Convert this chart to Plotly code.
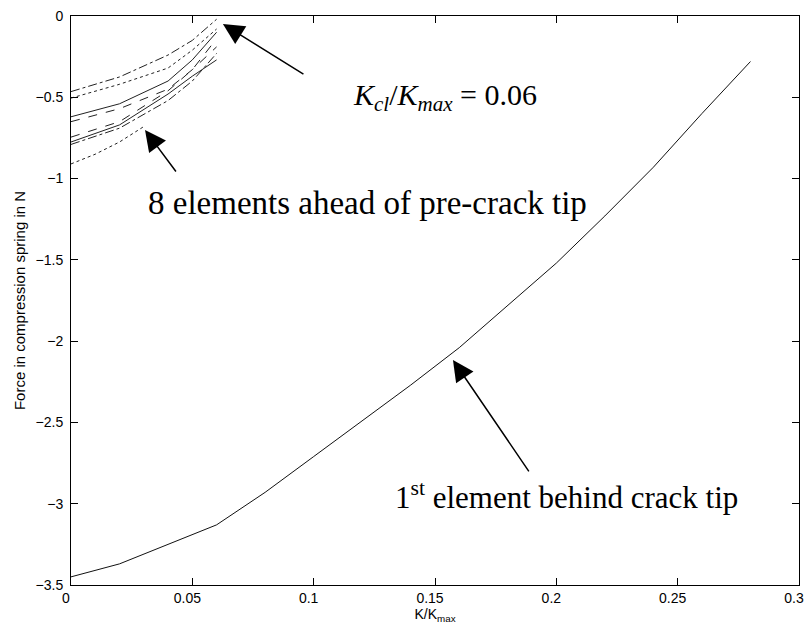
import plotly.graph_objects as go

# ---- data ----
main_x = [0.0, 0.02, 0.06, 0.08, 0.10, 0.12, 0.14, 0.16, 0.18, 0.20, 0.22, 0.24, 0.26, 0.28]
main_y = [-3.45, -3.37, -3.13, -2.93, -2.71, -2.49, -2.27, -2.04, -1.78, -1.52, -1.23, -0.93, -0.60, -0.28]

ahead_x = [0.0, 0.02, 0.04, 0.05, 0.06]
ahead_a = [-0.465, -0.375, -0.24, -0.15, -0.02]   # dash-dot
ahead_b = [-0.505, -0.42, -0.32, -0.21, -0.08]    # dotted
ahead_c = [-0.62, -0.54, -0.40, -0.27, -0.10]     # solid
ahead_d = [-0.65, -0.57, -0.45, -0.33, -0.19]     # dashed
ahead_e = [-0.775, -0.67, -0.48, -0.37, -0.27]    # solid
ahead_f = [-0.745, -0.65, -0.46, -0.33, -0.14]    # dashed
ahead_g = [-0.79, -0.69, -0.52, -0.40, -0.23]     # dash-dot
ahead_h_x = [0.0, 0.01, 0.02, 0.03]
ahead_h = [-0.91, -0.85, -0.775, -0.68]           # dotted

x_ticks = [0, 0.05, 0.1, 0.15, 0.2, 0.25, 0.3]
y_ticks = [0, -0.5, -1, -1.5, -2, -2.5, -3, -3.5]

fig = go.Figure()

line_specs = [
    (ahead_x, ahead_a, "dashdot"),
    (ahead_x, ahead_b, "dot"),
    (ahead_x, ahead_c, "solid"),
    (ahead_x, ahead_d, "dash"),
    (ahead_x, ahead_e, "solid"),
    (ahead_x, ahead_f, "dash"),
    (ahead_x, ahead_g, "dashdot"),
    (ahead_h_x, ahead_h, "dot"),
]
for xs, ys, dash in line_specs:
    fig.add_trace(go.Scatter(x=xs, y=ys, mode="lines",
                             line=dict(color="#222", width=1, dash=dash),
                             showlegend=False, hoverinfo="skip"))

fig.add_trace(go.Scatter(x=main_x, y=main_y, mode="lines",
                         line=dict(color="#111", width=1),
                         showlegend=False))

serif = "Liberation Serif, Times New Roman, serif"
sans = "Liberation Sans, Arial, sans-serif"

arrows = [
    # (head x, head y, tail x, tail y)
    (0.0626, -0.049, 0.0964, -0.363),
    (0.0305, -0.701, 0.0437, -0.966),
    (0.1574, -2.116, 0.1891, -2.81),
]
for hx, hy, tx, ty in arrows:
    fig.add_annotation(x=hx, y=hy, ax=tx, ay=ty, xref="x", yref="y",
                       axref="x", ayref="y", text="", showarrow=True,
                       arrowhead=2, arrowsize=2.8, arrowwidth=1.5,
                       arrowcolor="black", standoff=0)

texts = [
    (0.1541, -0.500, "<i>K<sub>cl</sub></i>/<i>K<sub>max</sub></i> = 0.06", 30),
    (0.1220, -1.150, "8 elements ahead of pre-crack tip", 33),
    (0.2040, -2.950, "1<sup>st</sup> element behind crack tip", 31),
]
for x, y, t, s in texts:
    fig.add_annotation(x=x, y=y, xref="x", yref="y", text=t, showarrow=False,
                       xanchor="center", yanchor="middle",
                       font=dict(family=serif, size=s, color="black"))

axis_common = dict(showline=True, linecolor="black", linewidth=1, mirror="ticks",
                   ticks="inside", ticklen=7, tickcolor="black", showgrid=False,
                   zeroline=False, ticklabeloverflow="allow",
                   tickfont=dict(family=sans, size=14, color="black"))

fig.update_xaxes(range=[0, 0.3], tickvals=x_ticks,
                 ticktext=[("%g" % v) for v in x_ticks],
                 ticklabelshift=-5,
                 title=dict(text="K/K<sub>max</sub>", standoff=3,
                            font=dict(family=sans, size=14, color="black")),
                 **axis_common)
fig.update_yaxes(range=[-3.5, 0], tickvals=y_ticks,
                 ticktext=[("%g" % v).replace("-", "\u2212") for v in y_ticks],
                 ticklabelstandoff=4,
                 title=dict(text="Force in compression spring in N", standoff=6,
                            font=dict(family=sans, size=15, color="black")),
                 **axis_common)

# plot box at 71..799 x 16..585 of the 807x631 window
fig.update_layout(width=807, height=631,
                  margin=dict(l=71, r=8, t=16, b=46, autoexpand=False),
                  paper_bgcolor="white", plot_bgcolor="white")

# remove the default page margin so the figure fills the window exactly
fig.write_html("out.html",
               config={"displayModeBar": False},
               post_script="document.body.style.margin='0';document.body.style.overflow='hidden';")
